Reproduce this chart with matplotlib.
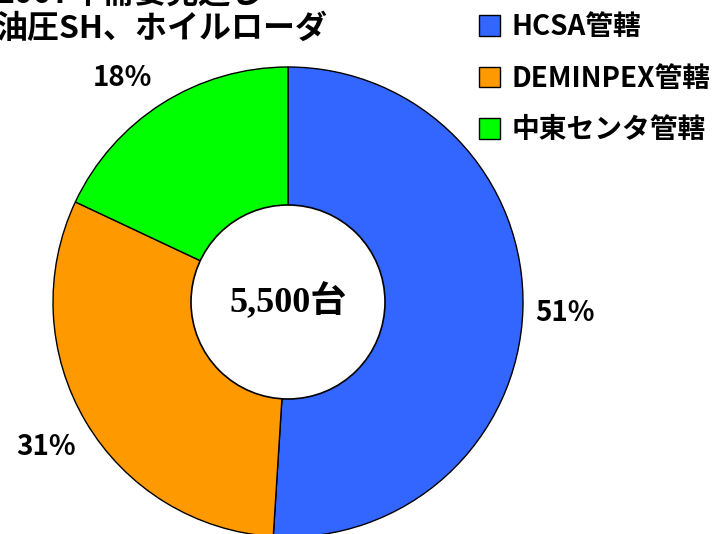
import matplotlib
matplotlib.use("Agg")
import matplotlib.pyplot as plt
from matplotlib.patches import Patch, Circle

plt.rcParams['font.family'] = ['Noto Sans CJK JP', 'DejaVu Sans']

# share of 2007 demand by region
regions = ['HCSA管轄', 'DEMINPEX管轄', '中東センタ管轄']
shares = [51, 31, 18]
colors = ['#3366FF', '#FF9900', '#00FF00']
total_label = '5,500台'
title_lines = ['2007年需要見通し', '油圧SH、ホイルローダ']

fig = plt.figure(figsize=(7.2, 5.34), dpi=100)
ax = fig.add_axes([0, 0, 1, 1])

cx, cy, r = 288, 232, 235
wedges, _ = ax.pie(shares, colors=colors, startangle=90, counterclock=False,
                   center=(cx, cy), radius=r, frame=True,
                   wedgeprops=dict(edgecolor='black', linewidth=1))
ax.set_xlim(0, 720)
ax.set_ylim(0, 534)
ax.set_aspect('equal')
ax.axis('off')

# percentage labels placed by hand like the original slide
label_pos = [(565, 221), (46, 87), (122, 456)]
for s, (x, y) in zip(shares, label_pos):
    ax.text(x, y, f'{s}%', ha='center', va='center', fontsize=20, fontweight='bold')

ax.add_patch(Circle((cx, cy), 97, facecolor='white', edgecolor='black', lw=1.2, zorder=5))
ax.text(cx, cy, total_label, ha='center', va='center', fontsize=26, fontweight='bold',
        family=['Liberation Serif', 'Noto Sans CJK JP'], zorder=6)

# the first title line runs off the top edge, as on the original slide
ax.text(-4, 540, title_lines[0], ha='left', va='center', fontsize=23, fontweight='bold')
ax.text(-4, 505, title_lines[1], ha='left', va='center', fontsize=23, fontweight='bold')

handles = [Patch(facecolor=c, edgecolor='black', lw=1) for c in colors]
ax.legend(handles, regions, loc='upper left', bbox_to_anchor=(0.658, 0.986),
          frameon=False, prop=dict(size=20, weight='bold'),
          borderaxespad=0.2, borderpad=0,
          handlelength=0.75, handleheight=0.75, handletextpad=0.4, labelspacing=0.85)

fig.savefig('out.png', dpi=100)
